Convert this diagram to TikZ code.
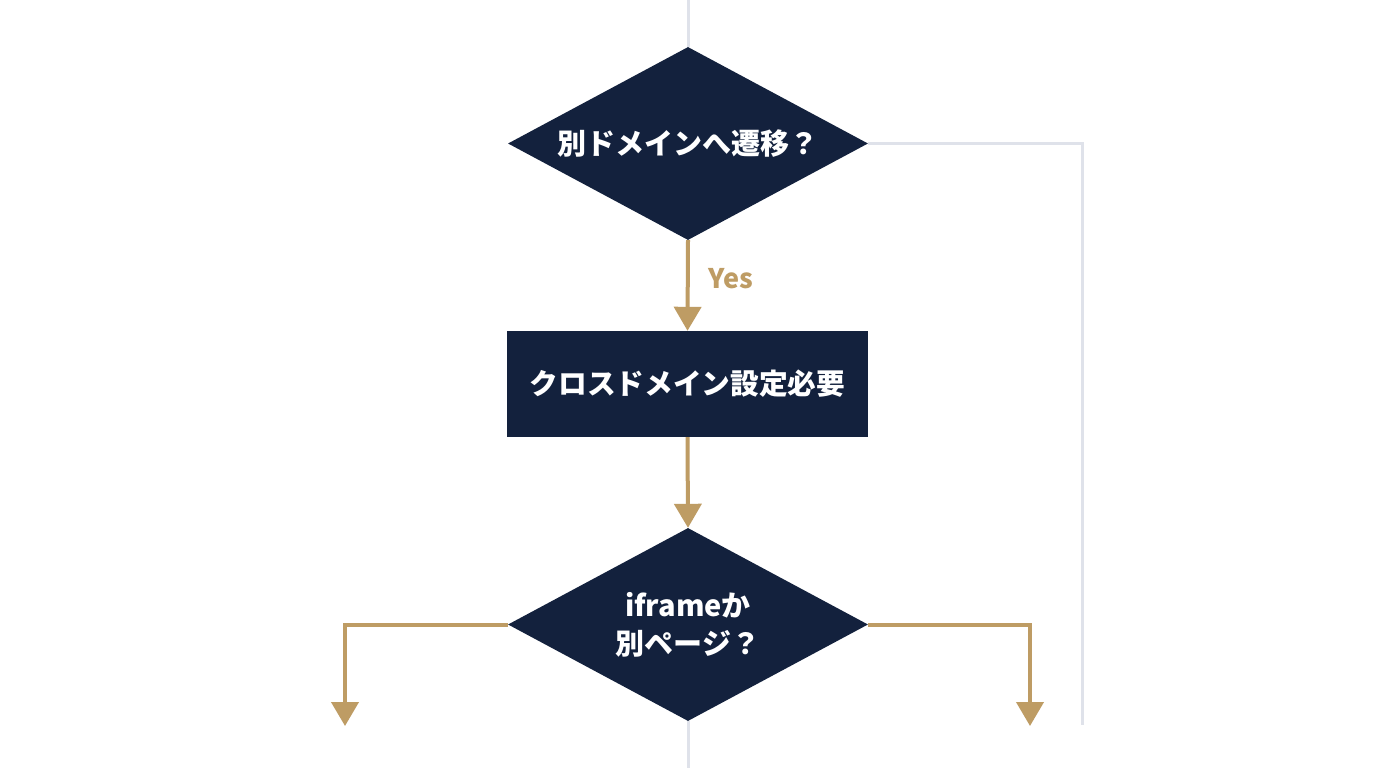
\documentclass[tikz,border=0pt]{standalone}
\usepackage{fontspec}
\setmainfont{Noto Sans CJK JP}
\usetikzlibrary{shapes.geometric,arrows.meta}
\definecolor{navy}{HTML}{13213D}
\definecolor{gold}{HTML}{BE9C64}
\definecolor{lightgray}{HTML}{DFE2EA}
\tikzset{
  decision/.style={diamond,aspect=1.865,fill=navy,text=white,inner sep=0pt,minimum width=360pt,minimum height=193pt,align=center,font=\fontsize{29}{38}\selectfont\bfseries},
  process/.style={rectangle,fill=navy,text=white,inner sep=0pt,minimum width=361pt,minimum height=106pt,font=\fontsize{28.7}{32}\selectfont\bfseries},
  goldline/.style={draw=gold,line width=4pt,-{Triangle[width=27pt,length=24pt]}},
  grayline/.style={draw=lightgray,line width=3pt},
  lbl/.style={text=gold,inner sep=0pt,font=\fontsize{27}{30}\selectfont\bfseries}
}
\begin{document}
\begin{tikzpicture}[x=1pt,y=-1pt]
\useasboundingbox[fill=white] (0,0) rectangle (1376,768);
\node[decision] (d1) at (688,143.5) {別ドメインへ遷移？};
\node[process] (p1) at (687.5,384) {クロスドメイン設定必要};
\node[decision] (d2) at (688,624.5) {iframeか\\別ページ？};
\coordinate (top) at (688,0);
\coordinate (bot) at (688,768);
\coordinate (grayend) at (1082,725);
\coordinate (lend) at (345,726);
\coordinate (rend) at (1030,726);
\draw[grayline] (top) -- (d1.north);
\draw[grayline] (d1.east) -| (grayend);
\draw[grayline] (d2.south) -- (bot);
\draw[goldline] (d1.south) -- node[lbl,right=19pt,pos=0.42]{Yes} (p1.north);
\draw[goldline] (p1.south) -- (d2.north);
\draw[goldline] (d2.west) -| (lend);
\draw[goldline] (d2.east) -| (rend);
\end{tikzpicture}
\end{document}
